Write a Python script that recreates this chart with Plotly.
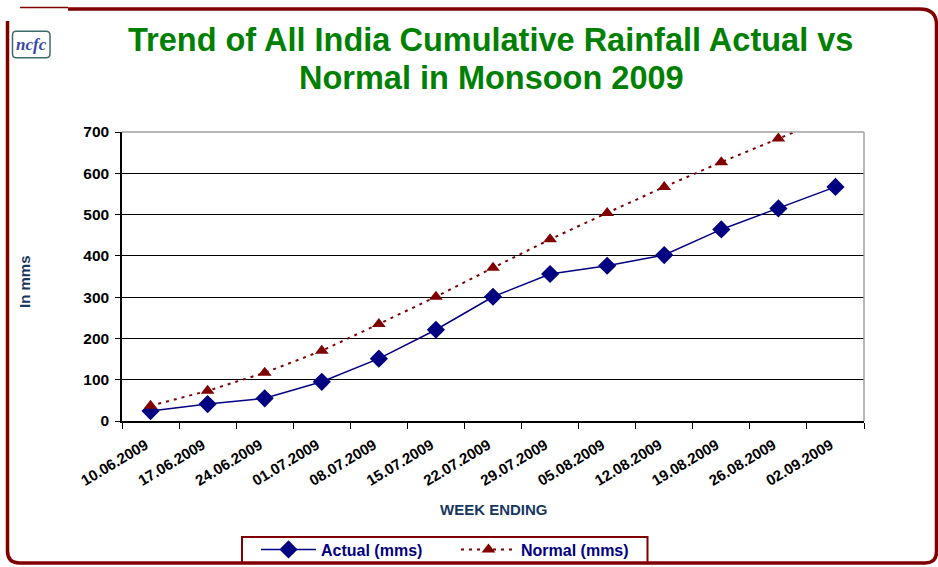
import plotly.graph_objects as go

# ---------------- data ----------------
weeks = ["10.06.2009", "17.06.2009", "24.06.2009", "01.07.2009", "08.07.2009",
         "15.07.2009", "22.07.2009", "29.07.2009", "05.08.2009", "12.08.2009",
         "19.08.2009", "26.08.2009", "02.09.2009"]
actual = [24, 41, 55, 95, 151, 221, 301, 356, 376, 402, 464, 515, 567]
normal = [37, 73, 117, 170, 235, 301, 371, 440, 504, 567, 627, 684, 741]
y_ticks = [0, 100, 200, 300, 400, 500, 600, 700]

title_line1 = "Trend of All India Cumulative Rainfall Actual vs"
title_line2 = "Normal in Monsoon 2009"

# ---------------- layout geometry ----------------
W, H = 938, 567
PL, PR, PT, PB = 122, 864, 131.5, 421.5   # plot area in pixels


def px(x):
    return (x - PL) / (PR - PL)


def py(y):
    return (PB - y) / (PB - PT)


FONT = "Arial, 'Liberation Sans', sans-serif"
NAVY = "#000080"
DRED = "#800000"
AXBLUE = "#17375e"

fig = go.Figure()
fig.add_trace(go.Scatter(
    x=weeks, y=actual, name="<b>Actual (mms)</b>", mode="lines+markers",
    line=dict(color=NAVY, width=1.5),
    marker=dict(symbol="diamond", size=14, color=NAVY),
))
fig.add_trace(go.Scatter(
    x=weeks, y=normal, name="<b>Normal (mms)</b>", mode="lines+markers",
    line=dict(color=DRED, width=2, dash="3px,5px"),
    marker=dict(symbol="triangle-up", size=12, color=DRED),
))


def path_from(points_cmds):
    out = []
    for cmd, pts in points_cmds:
        coords = [f"{px(x):.5f},{py(y):.5f}" for (x, y) in pts]
        out.append(cmd + " " + " ".join(coords))
    return " ".join(out)


frame_path = path_from([
    ("M", [(7.5, 20)]),
    ("L", [(7.5, 552)]),
    ("Q", [(7.5, 564), (19.5, 564)]),
    ("L", [(925, 564)]),
    ("Q", [(936.5, 564), (936.5, 553)]),
    ("L", [(936.5, 24)]),
    ("Q", [(936.5, 8), (920, 8)]),
    ("L", [(68, 8)]),
])

logo_path = path_from([
    ("M", [(16, 30.5)]),
    ("L", [(46, 30.5)]),
    ("Q", [(50, 30.5), (50, 34.5)]),
    ("L", [(50, 53)]),
    ("Q", [(50, 57), (46, 57)]),
    ("L", [(16, 57)]),
    ("Q", [(12.5, 57), (12.5, 53)]),
    ("L", [(12.5, 34.5)]),
    ("Q", [(12.5, 30.5), (16, 30.5)]),
])

shapes = [
    # legend box
    dict(type="rect", xref="paper", yref="paper",
         x0=px(242), y0=py(538), x1=px(647.5), y1=py(564),
         line=dict(color=DRED, width=2), fillcolor="white", layer="below"),
    dict(type="path", xref="paper", yref="paper", path=frame_path,
         line=dict(color=DRED, width=3.5), layer="above"),
    dict(type="line", xref="paper", yref="paper",
         x0=px(20), y0=py(6.5), x1=px(68), y1=py(6.5),
         line=dict(color=DRED, width=1.5)),
    dict(type="path", xref="paper", yref="paper", path=logo_path,
         line=dict(color="#3d6b6b", width=1.5)),
    # grey top / right border of plot area
    dict(type="line", xref="paper", yref="paper", x0=0, y0=1, x1=1, y1=1,
         line=dict(color="#a0a0a0", width=1.5), layer="above"),
    dict(type="line", xref="paper", yref="paper", x0=1, y0=0, x1=1, y1=1,
         line=dict(color="#a0a0a0", width=1.5), layer="above"),
]

annotations = [
    dict(text=f"<b>{title_line1}</b>", xref="paper", yref="paper",
         x=px(490), y=py(39), xanchor="center", yanchor="middle",
         showarrow=False, font=dict(family=FONT, size=32.5, color="#008000")),
    dict(text=f"<b>{title_line2}</b>", xref="paper", yref="paper",
         x=px(491), y=py(77.5), xanchor="center", yanchor="middle",
         showarrow=False, font=dict(family=FONT, size=32.5, color="#008000")),
    dict(text="<b><i>ncfc</i></b>", xref="paper", yref="paper",
         x=px(31.5), y=py(43.5), xanchor="center", yanchor="middle",
         showarrow=False,
         font=dict(family="'Liberation Serif', serif", size=17, color="#3848a8")),
    dict(text="<b>In mms</b>", xref="paper", yref="paper",
         x=px(25), y=py(282), xanchor="center", yanchor="middle", textangle=-90,
         showarrow=False, font=dict(family=FONT, size=15, color=AXBLUE)),
    dict(text="<b>WEEK ENDING</b>", xref="paper", yref="paper",
         x=px(494), y=py(510), xanchor="center", yanchor="middle",
         showarrow=False, font=dict(family=FONT, size=15, color=AXBLUE)),
]

fig.update_layout(
    width=W, height=H,
    margin=dict(l=PL, r=W - PR, t=PT, b=H - PB, pad=0, autoexpand=False),
    paper_bgcolor="white", plot_bgcolor="white",
    font=dict(family=FONT, color="black"),
    showlegend=True,
    legend=dict(
        orientation="h", xanchor="left", yanchor="middle",
        x=px(256), y=py(550.5),
        bordercolor="rgba(0,0,0,0)", borderwidth=0, bgcolor="rgba(0,0,0,0)",
        font=dict(family=FONT, size=16, color=NAVY),
        itemwidth=55, entrywidth=130,
    ),
    shapes=shapes,
    annotations=annotations,
)

fig.update_xaxes(
    type="category", range=[-0.5, len(weeks) - 0.5],
    showgrid=False, showline=True, linecolor="black", linewidth=1.5,
    ticks="outside", tickson="boundaries", ticklen=6, tickcolor="black",
    tickangle=-31, ticklabelstandoff=8, ticklabelshift=-5,
    tickfont=dict(family=FONT, size=15, color="black", weight="bold"),
    automargin=False,
)
fig.update_yaxes(
    range=[0, 700], tickvals=y_ticks,
    showgrid=True, gridcolor="black", gridwidth=1,
    showline=True, linecolor="black", linewidth=1.5,
    ticks="outside", ticklen=5, tickcolor="black", ticklabelstandoff=3,
    tickfont=dict(family=FONT, size=15.5, color="black", weight="bold"),
    zeroline=False, automargin=False,
)

fig.write_html("out.html",
               config={"displayModeBar": False},
               post_script="document.body.style.margin='0px';"
                           "document.body.style.overflow='hidden';")
